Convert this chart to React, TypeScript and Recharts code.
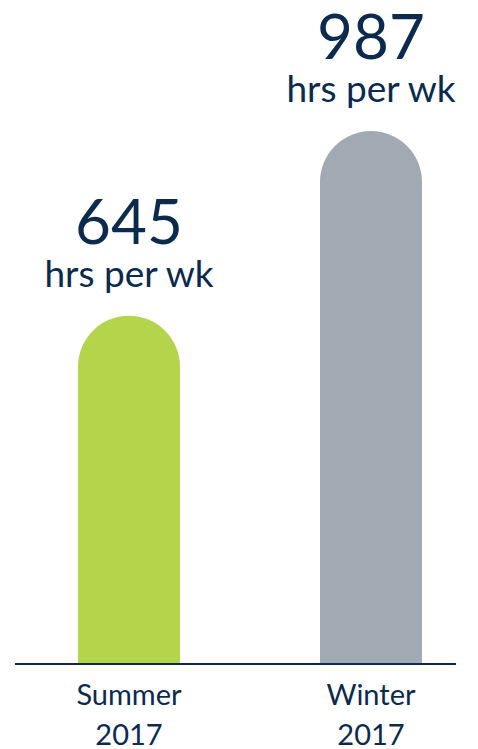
import React from "react";
import { BarChart, Bar, XAxis, YAxis, Cell, LabelList } from "recharts";

const categories = ["Summer 2017", "Winter 2017"];
const tickLines = [["Summer", "2017"], ["Winter", "2017"]];
const hours = [645, 987];
const unitLabel = "hrs per wk";
const colors = ["#b3d44b", "#a1aab2"];

const data = categories.map((c, i) => ({ name: c, value: hours[i], idx: i }));

const NAVY = "#0c2a4e";
const FONT = "Lato, 'Open Sans', sans-serif";

const TopLabel = (props: any) => {
  const { x, y, width, value } = props;
  const cx = x + width / 2;
  return (
    <g>
      <text x={cx} y={y - 72} textAnchor="middle" fill={NAVY} fontFamily={FONT} fontSize={62}>
        {value}
      </text>
      <text x={cx} y={y - 29} textAnchor="middle" fill={NAVY} fontFamily={FONT} fontSize={37}>
        {unitLabel}
      </text>
    </g>
  );
};

const Tick = (props: any) => {
  const { x, y, index } = props;
  const lines = tickLines[index] || [];
  return (
    <g>
      {lines.map((l, i) => (
        <text key={i} x={x} y={y + 33 + i * 40} textAnchor="middle" fill={NAVY} fontFamily={FONT} fontSize={29}>
          {l}
        </text>
      ))}
    </g>
  );
};

export default function App() {
  return (
    <div style={{ position: "absolute", left: 0, top: 0, width: 478, height: 749, background: "#fff" }}>
      <BarChart width={478} height={749} data={data} margin={{ top: 124, right: 22, bottom: 0, left: 15 }}>
        <XAxis
          dataKey="name"
          axisLine={{ stroke: NAVY, strokeWidth: 2 }}
          tickLine={false}
          tick={<Tick />}
          interval={0}
          padding={{ left: -7, right: -36 }}
          height={85}
        />
        <YAxis hide domain={[0, 1000]} />
        <Bar dataKey="value" barSize={102} radius={[51, 51, 0, 0]} isAnimationActive={false}>
          {data.map((d, i) => (
            <Cell key={i} fill={colors[i]} />
          ))}
          <LabelList dataKey="value" content={<TopLabel />} />
        </Bar>
      </BarChart>
    </div>
  );
}
